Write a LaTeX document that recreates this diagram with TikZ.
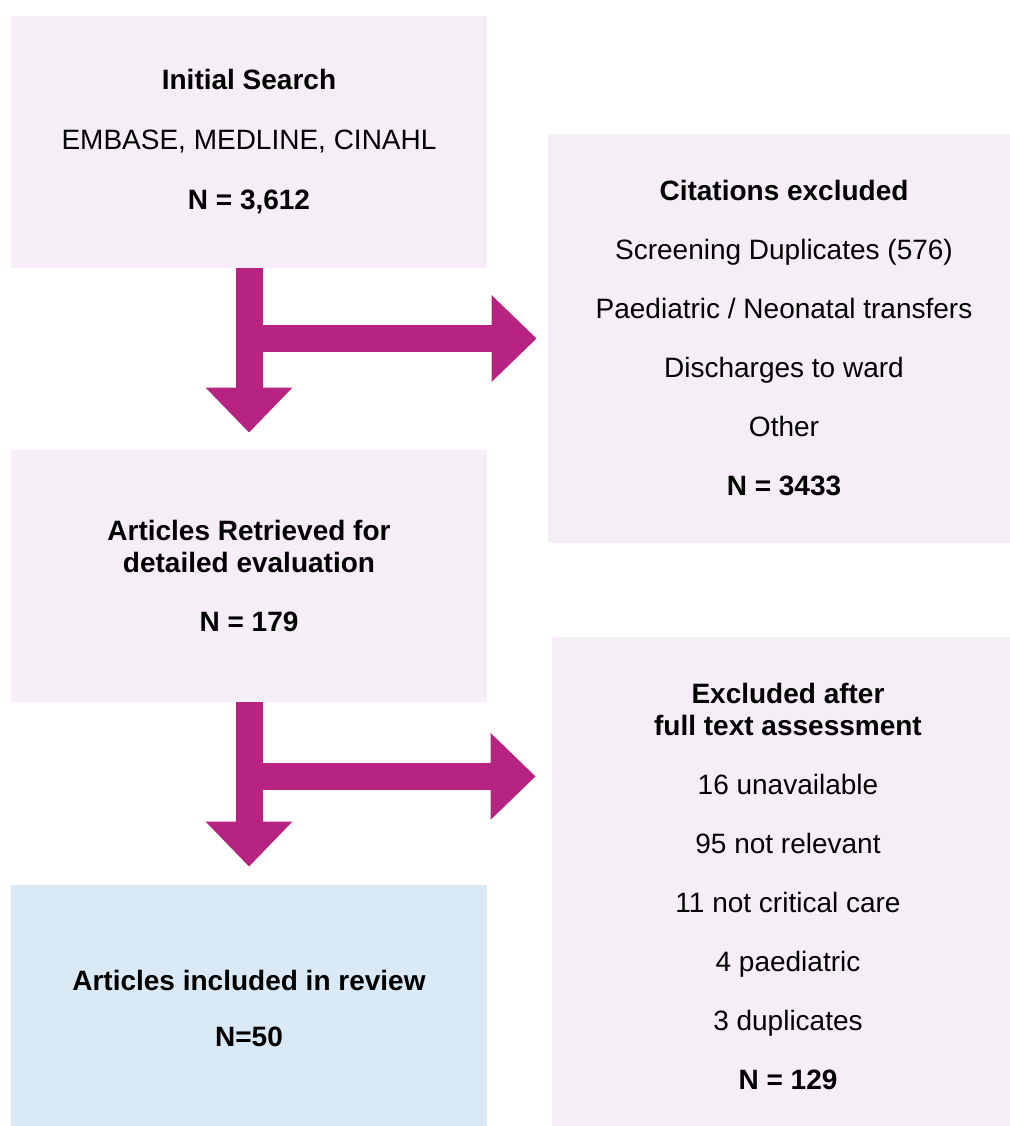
\documentclass[tikz,border=0pt]{standalone}
\usepackage{fontspec}
\setmainfont{Liberation Sans}
\usepackage{xcolor}
\usepackage{tikz}
\usetikzlibrary{arrows.meta, positioning, calc}
\definecolor{boxpink}{RGB}{245,238,247}
\definecolor{boxblue}{RGB}{218,233,246}
\definecolor{arrowmagenta}{RGB}{183,35,129}
\tikzset{
    box/.style={fill=boxpink, inner sep=0pt, align=center, text=black,
        font=\fontsize{14pt}{16pt}\selectfont}, % every pale box of the flow chart
    widebox/.style={box, minimum width=238pt}, % left column
    sidebox/.style={box, minimum width=236pt}, % right column
    flowarrow/.style={arrowmagenta, line width=13.5pt,
        -{Triangle[length=22.5pt, width=42pt]}}, % the fat arrows
}
\def\gap{\\[13.5pt]}
\begin{document}
\begin{tikzpicture}[x=0.5pt, y=-0.5pt]
        \useasboundingbox (0,0) rectangle (1010,1126);
        \clip (0,0) rectangle (1010,1126);
        % boxes
        \node[widebox, minimum height=126pt] (search) at (249,142)
            {\textbf{Initial Search}\\[14pt]EMBASE, MEDLINE, CINAHL\\[14pt]\textbf{N = 3,612}};
        \node[sidebox, minimum height=204.5pt] (cited) at (784,338.5)
            {\textbf{Citations excluded}\gap Screening Duplicates (576)\gap Paediatric / Neonatal transfers\gap
             Discharges to ward\gap Other\gap \textbf{N = 3433}};
        \node[widebox, minimum height=126pt] (retrieved) at (249,576)
            {\textbf{Articles Retrieved for}\\\textbf{detailed evaluation}\gap\textbf{N = 179}};
        \node[sidebox, minimum height=249pt] (fulltext) at (788,886)
            {\textbf{Excluded after}\\\textbf{full text assessment}\gap 16 unavailable\gap 95 not relevant\gap
             11 not critical care\gap 4 paediatric\gap 3 duplicates\gap \textbf{N = 129}};
        \node[widebox, fill=boxblue, minimum height=123.5pt] (included) at (249,1008.5)
            {\textbf{Articles included in review}\\[12pt]\textbf{N=50}};
        % arrows
        \draw[flowarrow, shorten >=8.5pt] (search.south) -- (retrieved.north);
        \draw[flowarrow, shorten >=5.5pt] (search.south |- cited.west) -- (cited.west);
        \coordinate (fork) at ($(retrieved.south)+(0,74)$);
        \draw[flowarrow, shorten >=9pt] (retrieved.south) -- (included.north);
        \draw[flowarrow, shorten >=8pt] (fork) -- (fork -| fulltext.west);
    \end{tikzpicture}
\end{document}
